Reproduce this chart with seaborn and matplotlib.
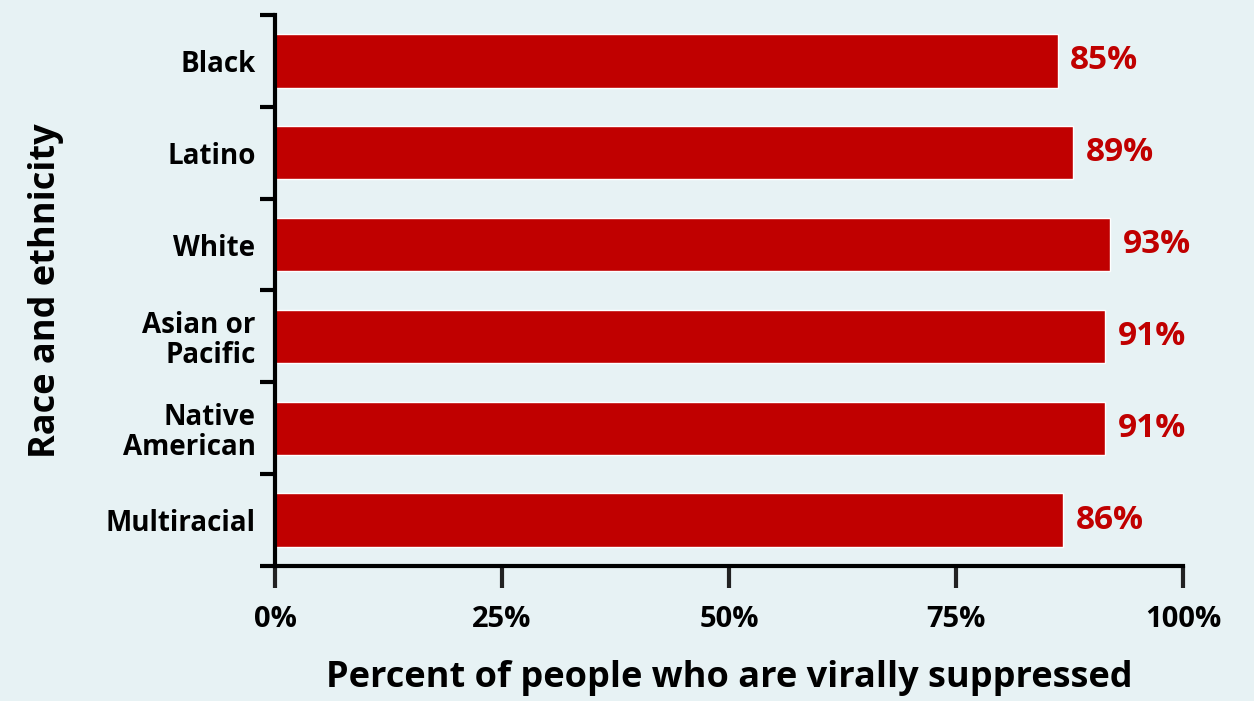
import pandas as pd
import matplotlib.pyplot as plt
import seaborn as sns

# Data
groups = ['Black', 'Latino', 'White', 'Asian or\nPacific', 'Native\nAmerican', 'Multiracial']
suppressed = [86.2, 87.9, 92.0, 91.4, 91.4, 86.8]
bar_labels = ['85%', '89%', '93%', '91%', '91%', '86%']
x_ticks = [0, 25, 50, 75, 100]
x_ticklabels = ['0%', '25%', '50%', '75%', '100%']

df = pd.DataFrame({'group': groups, 'pct': suppressed})

sns.set_style('white')
plt.rcParams['font.family'] = ['Open Sans', 'DejaVu Sans']

bg = '#e7f2f4'
fig = plt.figure(figsize=(12.54, 7.01), dpi=100, facecolor=bg)
ax = fig.add_axes([0.2193, 0.1926, 0.7241, 0.7860])
ax.set_facecolor(bg)

sns.barplot(data=df, x='pct', y='group', orient='h', color='#c00000',
            saturation=1, width=0.58, ax=ax)

ax.bar_label(ax.containers[0], labels=bar_labels, padding=9,
             color='#c00000', fontsize=24, fontweight='bold')

ax.set_xlim(0, 100)
ax.set_ylim(len(groups) - 0.5, -0.5)
ax.set_xticks(x_ticks)
ax.set_xticklabels(x_ticklabels, fontsize=21, fontweight='bold', color='black')
ax.set_yticks(range(len(groups)))
ax.set_yticklabels(groups, fontsize=20, fontweight='bold', color='black', linespacing=1.05)
ax.set_yticks([i - 0.5 for i in range(len(groups) + 1)], minor=True)
ax.tick_params(axis='y', which='major', left=False, length=0, pad=14)
ax.tick_params(axis='y', which='minor', left=True, length=11, width=3, color='black')
ax.tick_params(axis='x', which='major', bottom=True, length=16, width=3,
               color='#222222', pad=12)

for side in ['top', 'right']:
    ax.spines[side].set_visible(False)
for side in ['left', 'bottom']:
    ax.spines[side].set_linewidth(3)
    ax.spines[side].set_color('black')

ax.set_xlabel('Percent of people who are virally suppressed', fontsize=26,
              fontweight='bold', color='black', labelpad=19)
ax.set_ylabel('Race and ethnicity', fontsize=26, fontweight='bold',
              color='black', labelpad=30)

fig.savefig('out.png', dpi=100, facecolor=bg)
